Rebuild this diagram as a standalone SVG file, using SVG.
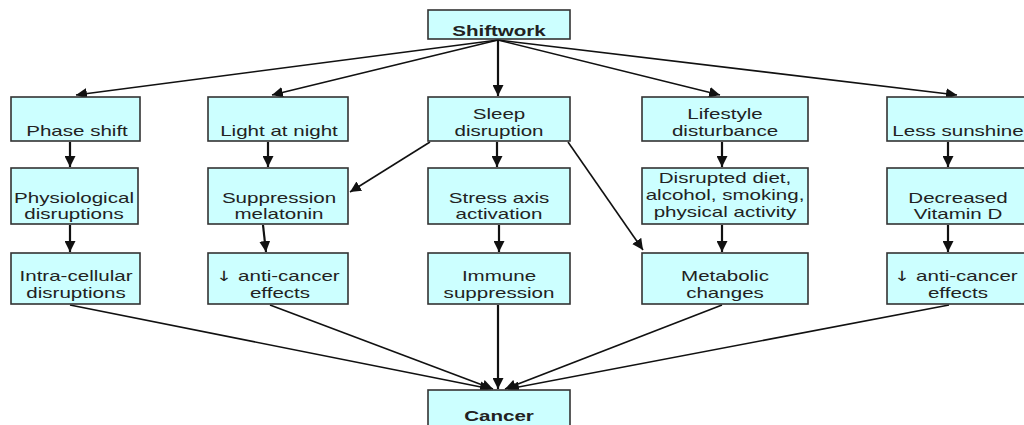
<svg xmlns="http://www.w3.org/2000/svg" width="1024" height="425" viewBox="0 0 1024 425">
<defs>
<marker id="ah" markerUnits="userSpaceOnUse" markerWidth="12" markerHeight="11" refX="11" refY="5.5" orient="auto">
<path d="M0,0 L11,5.5 L0,11 z" fill="#111"/>
</marker>
<style>
.box{fill:#ccffff;stroke:#333;stroke-width:1.6}
.t{font-family:"Liberation Sans",Arial,sans-serif;font-size:15px;fill:#222;text-anchor:middle}
.b{font-weight:bold}
.ar{font-family:"DejaVu Sans",sans-serif;font-size:14px}
.c{stroke:#111;fill:none;marker-end:url(#ah)}
.v{stroke-width:2.2}
.d{stroke-width:1.6}
</style>
</defs>
<rect width="1024" height="425" fill="#fff"/>
<g id="connectors">
<line class="c d" x1="498" y1="40" x2="76" y2="95"/>
<line class="c d" x1="498" y1="40" x2="272" y2="95"/>
<line class="c v" x1="498" y1="40" x2="498" y2="96"/>
<line class="c d" x1="498" y1="40" x2="720" y2="95"/>
<line class="c d" x1="498" y1="40" x2="957" y2="95"/>
<line class="c v" x1="70" y1="142" x2="70" y2="167"/>
<line class="c v" x1="268" y1="142" x2="268" y2="167"/>
<line class="c v" x1="497" y1="142" x2="497" y2="167"/>
<line class="c v" x1="722" y1="142" x2="722" y2="167"/>
<line class="c v" x1="948" y1="142" x2="948" y2="167"/>
<line class="c d" x1="430" y1="142" x2="350" y2="192"/>
<line class="c d" x1="568" y1="142" x2="643" y2="250"/>
<line class="c v" x1="70" y1="225" x2="70" y2="252"/>
<line class="c v" x1="263" y1="225" x2="266" y2="252"/>
<line class="c v" x1="499" y1="225" x2="499" y2="252"/>
<line class="c v" x1="722" y1="225" x2="722" y2="252"/>
<line class="c v" x1="948" y1="225" x2="948" y2="252"/>
<line class="c d" x1="70" y1="305" x2="491" y2="389"/>
<line class="c d" x1="270" y1="305" x2="493" y2="389"/>
<line class="c v" x1="498" y1="305" x2="498" y2="389"/>
<line class="c d" x1="722" y1="305" x2="505" y2="389"/>
<line class="c d" x1="949" y1="305" x2="508" y2="389"/>
</g>
<g id="shiftwork"><rect class="box" x="428" y="10" width="142" height="29"/><text class="t b" transform="translate(499 36) scale(1.37 1)">Shiftwork</text></g>
<g id="phase-shift"><rect class="box" x="11" y="97" width="129" height="44"/><text class="t" transform="translate(77 136) scale(1.37 1)">Phase shift</text></g>
<g id="light-at-night"><rect class="box" x="208" y="97" width="140" height="44"/><text class="t" transform="translate(279 136) scale(1.37 1)">Light at night</text></g>
<g id="sleep-disruption"><rect class="box" x="428" y="97" width="142" height="44"/><text class="t" transform="translate(499 119) scale(1.37 1)">Sleep</text><text class="t" transform="translate(499 136) scale(1.37 1)">disruption</text></g>
<g id="lifestyle"><rect class="box" x="642" y="97" width="166" height="44"/><text class="t" transform="translate(725 119) scale(1.37 1)">Lifestyle</text><text class="t" transform="translate(725 136) scale(1.37 1)">disturbance</text></g>
<g id="less-sunshine"><rect class="box" x="887" y="97" width="140" height="44"/><text class="t" transform="translate(958 136) scale(1.37 1)">Less sunshine</text></g>
<g id="physiological"><rect class="box" x="11" y="168" width="127" height="56"/><text class="t" transform="translate(74 203) scale(1.37 1)">Physiological</text><text class="t" transform="translate(74 219) scale(1.37 1)">disruptions</text></g>
<g id="suppression"><rect class="box" x="208" y="168" width="140" height="56"/><text class="t" transform="translate(279 203) scale(1.37 1)">Suppression</text><text class="t" transform="translate(279 219) scale(1.37 1)">melatonin</text></g>
<g id="stress"><rect class="box" x="428" y="168" width="142" height="56"/><text class="t" transform="translate(499 203) scale(1.37 1)">Stress axis</text><text class="t" transform="translate(499 219) scale(1.37 1)">activation</text></g>
<g id="diet"><rect class="box" x="642" y="168" width="166" height="56"/><text class="t" transform="translate(725 183) scale(1.37 1)">Disrupted diet,</text><text class="t" transform="translate(725 200) scale(1.37 1)">alcohol, smoking,</text><text class="t" transform="translate(725 217) scale(1.37 1)">physical activity</text></g>
<g id="vitamin-d"><rect class="box" x="887" y="168" width="140" height="56"/><text class="t" transform="translate(958 203) scale(1.37 1)">Decreased</text><text class="t" transform="translate(958 219) scale(1.37 1)">Vitamin D</text></g>
<g id="intra-cellular"><rect class="box" x="11" y="253" width="129" height="51"/><text class="t" transform="translate(76 281) scale(1.37 1)">Intra-cellular</text><text class="t" transform="translate(76 298) scale(1.37 1)">disruptions</text></g>
<g id="anti-cancer-1"><rect class="box" x="208" y="253" width="140" height="51"/><text class="t" transform="translate(278 281) scale(1.37 1)"><tspan class="ar">↓</tspan> anti-cancer</text><text class="t" transform="translate(280 298) scale(1.37 1)">effects</text></g>
<g id="immune"><rect class="box" x="428" y="253" width="142" height="51"/><text class="t" transform="translate(499 281) scale(1.37 1)">Immune</text><text class="t" transform="translate(499 298) scale(1.37 1)">suppression</text></g>
<g id="metabolic"><rect class="box" x="642" y="253" width="166" height="51"/><text class="t" transform="translate(725 281) scale(1.37 1)">Metabolic</text><text class="t" transform="translate(725 298) scale(1.37 1)">changes</text></g>
<g id="anti-cancer-2"><rect class="box" x="887" y="253" width="140" height="51"/><text class="t" transform="translate(956 281) scale(1.37 1)"><tspan class="ar">↓</tspan> anti-cancer</text><text class="t" transform="translate(958 298) scale(1.37 1)">effects</text></g>
<g id="cancer"><rect class="box" x="428" y="390" width="142" height="45"/><text class="t b" transform="translate(499 421) scale(1.37 1)">Cancer</text></g>
</svg>
